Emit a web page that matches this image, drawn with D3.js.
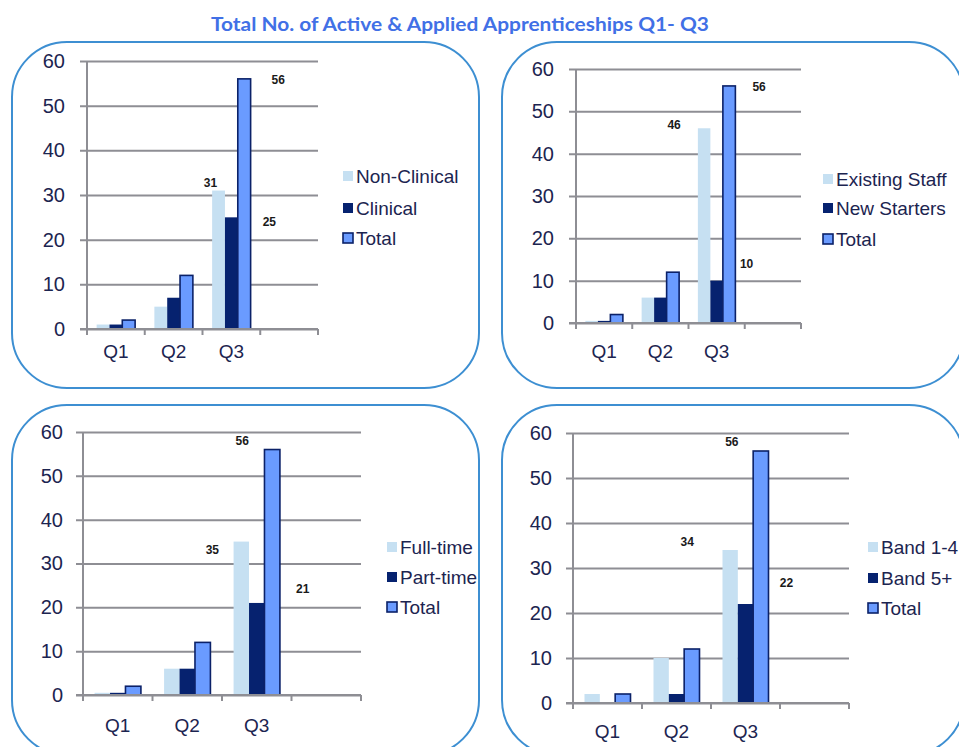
<!DOCTYPE html>
<html>
<head>
<meta charset="utf-8">
<script src="https://cdn.jsdelivr.net/npm/d3@7/dist/d3.min.js"></script>
<style>
  html, body { margin: 0; padding: 0; background: #ffffff; }
  svg { display: block; }
  text { font-family: "Liberation Sans", Arial, sans-serif; }
</style>
</head>
<body>
<svg id="chart" width="959" height="747"></svg>
<script>
// ---- data ----
const chartTitle = "Total No. of Active & Applied Apprenticeships Q1- Q3";
const quarters = ["Q1", "Q2", "Q3", ""];
const yTicks = [0, 10, 20, 30, 40, 50, 60];

const totalApprenticeships = [2, 12, 56, null];

const nonClinical = [1, 5, 31, null];
const clinical    = [1, 7, 25, null];

const existingStaff = [0.5, 6, 46, null];
const newStarters   = [0.5, 6, 10, null];

const fullTime = [0.5, 6, 35, null];
const partTime = [0.5, 6, 21, null];

const band1to4  = [2, 10, 34, null];
const band5plus = [0, 2, 22, null];

const seriesNames = [
  ["Non-Clinical", "Clinical", "Total"],
  ["Existing Staff", "New Starters", "Total"],
  ["Full-time", "Part-time", "Total"],
  ["Band 1-4", "Band 5+", "Total"]
];
const seriesValues = [
  [nonClinical, clinical, totalApprenticeships],
  [existingStaff, newStarters, totalApprenticeships],
  [fullTime, partTime, totalApprenticeships],
  [band1to4, band5plus, totalApprenticeships]
];
// value labels: [series index, quarter index]
const labelledBars = [
  [[0, 2], [1, 2], [2, 2]],
  [[0, 2], [1, 2], [2, 2]],
  [[0, 2], [1, 2], [2, 2]],
  [[0, 2], [1, 2], [2, 2]]
];

// ---- layout ----
const panels = [
  { box: [12, 42, 479, 388],  x0: 87,  x1: 318, yTop: 61,  y0: 329, tickGap: 22, catDy: 29,
    legendX: 343, legendY: [176, 208, 238],
    labelOffsets: [[-8, -8], [38, 4], [34, 1]] },
  { box: [502, 42, 964, 388], x0: 576, x1: 801, yTop: 69,  y0: 323, tickGap: 22, catDy: 35,
    legendX: 823, legendY: [179, 208, 239],
    labelOffsets: [[-30, -3], [30, -17], [30, 1]] },
  { box: [12, 405, 479, 755], x0: 83,  x1: 361, yTop: 432, y0: 695, tickGap: 20, catDy: 37,
    legendX: 387, legendY: [547, 577, 607],
    labelOffsets: [[-29, 8], [46, -14], [-30, -9]] },
  { box: [502, 405, 964, 755], x0: 573, x1: 849, yTop: 433, y0: 703, tickGap: 21, catDy: 35,
    legendX: 868, legendY: [547, 578, 608],
    labelOffsets: [[-43, -8], [41, -21], [-29, -9]] }
];

const fills = ["#c6e0f2", "#06226f", "#6a9bff"];
const strokes = ["none", "none", "#0b2168"];
const gridColor = "#8e8e94";
const textColor = "#1c2450";
const boxColor = "#3d8fd2";

const svg = d3.select("#chart");

// title
svg.append("text")
  .attr("x", 460).attr("y", 31)
  .attr("text-anchor", "middle")
  .attr("textLength", 498)
  .attr("lengthAdjust", "spacingAndGlyphs")
  .style("font-family", "Lato, 'Open Sans', sans-serif")
  .style("font-weight", "bold")
  .style("font-size", "18px")
  .attr("fill", "#4170e6")
  .text(chartTitle);

panels.forEach((p, pi) => {
  const g = svg.append("g");

  // rounded frame
  g.append("rect")
    .attr("x", p.box[0]).attr("y", p.box[1])
    .attr("width", p.box[2] - p.box[0]).attr("height", p.box[3] - p.box[1])
    .attr("rx", 55).attr("ry", 55)
    .attr("fill", "none")
    .attr("stroke", boxColor)
    .attr("stroke-width", 2);

  const x = d3.scaleBand().domain(d3.range(quarters.length)).range([p.x0, p.x1]);
  const inner = d3.scaleBand().domain([0, 1, 2])
    .range([0, x.bandwidth()]).paddingOuter(0.75).paddingInner(0);
  const y = d3.scaleLinear().domain([0, 60]).range([p.y0, p.yTop]);

  // y axis with gridlines
  const yAxis = d3.axisLeft(y).tickValues(yTicks).tickSizeInner(-(p.x1 - p.x0)).tickSizeOuter(0).tickPadding(p.tickGap);
  const ya = g.append("g").attr("transform", `translate(${p.x0},0)`).call(yAxis);
  ya.select(".domain").remove();
  ya.selectAll(".tick line")
    .attr("x1", -7)
    .attr("stroke", gridColor).attr("stroke-width", 2);
  ya.selectAll(".tick text")
    .attr("x", -p.tickGap)
    .attr("fill", textColor)
    .style("font-size", "20px");

  // vertical axis line
  g.append("line")
    .attr("x1", p.x0).attr("x2", p.x0)
    .attr("y1", y(60)).attr("y2", p.y0 + 6)
    .attr("stroke", gridColor).attr("stroke-width", 2);

  // x axis ticks at category boundaries
  const bounds = quarters.map((q, i) => x(i)).concat([p.x1]);
  g.selectAll(".xtick").data(bounds).enter().append("line")
    .attr("x1", d => d).attr("x2", d => d)
    .attr("y1", p.y0).attr("y2", p.y0 + 6)
    .attr("stroke", gridColor).attr("stroke-width", 2);

  // bars
  seriesValues[pi].forEach((vals, si) => {
    g.selectAll(".bar" + si).data(vals.map((v, qi) => ({ v, qi })).filter(d => d.v != null))
      .enter().append("rect")
      .attr("x", d => x(d.qi) + inner(si))
      .attr("width", inner.bandwidth())
      .attr("y", d => y(d.v))
      .attr("height", d => p.y0 - y(d.v))
      .attr("fill", fills[si])
      .attr("stroke", strokes[si])
      .attr("stroke-width", si === 2 ? 1.6 : 0);
  });

  // x axis baseline
  g.append("line")
    .attr("x1", p.x0 - 7).attr("x2", p.x1)
    .attr("y1", p.y0).attr("y2", p.y0)
    .attr("stroke", gridColor).attr("stroke-width", 2);

  // category labels
  g.selectAll(".cat").data(quarters).enter().append("text")
    .attr("x", (d, i) => x(i) + x.bandwidth() / 2)
    .attr("y", p.y0 + p.catDy)
    .attr("text-anchor", "middle")
    .attr("fill", textColor)
    .style("font-size", "19px")
    .text(d => d);

  // value labels
  labelledBars[pi].forEach(([si, qi], li) => {
    const v = seriesValues[pi][si][qi];
    const off = p.labelOffsets[li];
    g.append("text")
      .attr("x", x(qi) + inner(si) + inner.bandwidth() / 2 + off[0])
      .attr("y", y(v) + off[1])
      .attr("dy", "0.35em")
      .attr("text-anchor", "middle")
      .attr("fill", "#1a1a1a")
      .style("font-size", "12px")
      .style("font-weight", "bold")
      .text(v);
  });

  // legend
  seriesNames[pi].forEach((name, si) => {
    const ly = p.legendY[si];
    g.append("rect")
      .attr("x", p.legendX).attr("y", ly - 5)
      .attr("width", 10).attr("height", 10)
      .attr("fill", fills[si])
      .attr("stroke", strokes[si])
      .attr("stroke-width", si === 2 ? 1.6 : 0);
    g.append("text")
      .attr("x", p.legendX + 13).attr("y", ly)
      .attr("dy", "0.35em")
      .attr("fill", textColor)
      .style("font-size", "19px")
      .text(name);
  });
});
</script>
</body>
</html>
